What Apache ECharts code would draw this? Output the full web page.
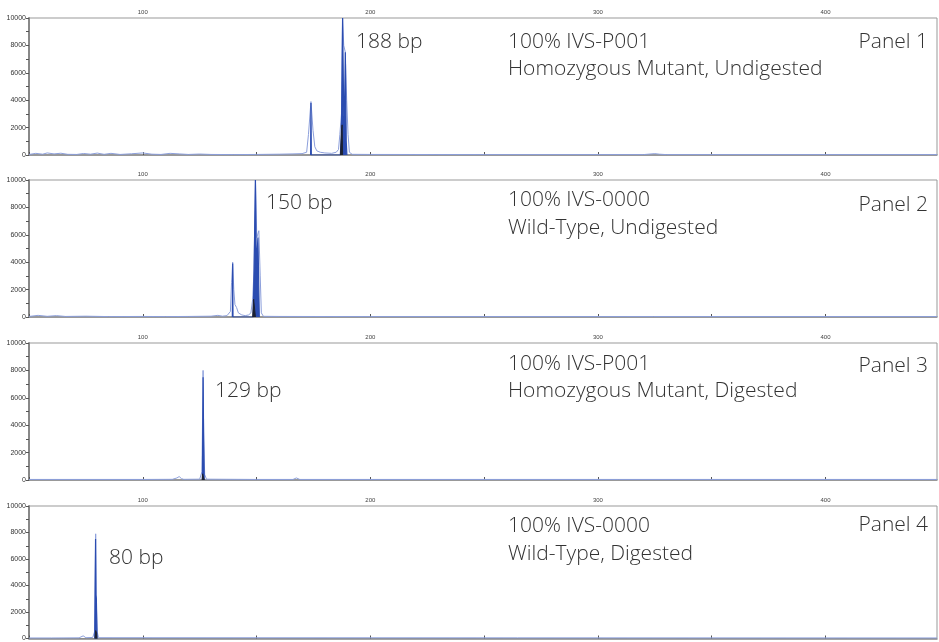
<!DOCTYPE html>
<html>
<head>
<meta charset="utf-8">
<script src="https://cdn.jsdelivr.net/npm/echarts@6/dist/echarts.min.js"></script>
<style>
html,body{margin:0;padding:0;background:#fff;}
#chart{width:939px;height:642px;}
</style>
</head>
<body>
<div id="chart"></div>
<script>
// ---- Data (size in bp, intensity in RFU) ----
var xMin = 50, xMax = 449;
var yTicks = [0, 2000, 4000, 6000, 8000, 10000];
var xTickLabels = [100, 200, 300, 400];

var panel1Trace = [[50,40],[53,120],[56,60],[58,150],[61,80],[64,130],[67,50],[71,40],[74,110],[77,60],[80,140],[83,50],[86,120],[90,40],[95,90],[100,150],[104,60],[108,40],[112,120],[116,80],[120,40],[125,70],[130,40],[140,30],[150,40],[160,60],[166,80],[170,100],[172,200],[172.8,1500],[173.9,3900],[174.8,1800],[175.6,600],[176.5,300],[178,200],[180,150],[183,120],[185,200],[186,400],[186.6,1500],[187.3,3000],[187.8,10000],[188.3,8000],[189,7500],[189.6,4000],[190.2,1500],[190.8,200],[192,50],[200,40],[250,30],[320,30],[325,100],[327,60],[330,30],[449,30]];
var panel1Peak = [[173.75,0],[173.9,3800],[174.05,0],[186.8,0],[187.3,1500],[187.8,10000],[188.3,3000],[188.6,2500],[189.0,7500],[189.4,1000],[189.7,0]];
var panel1Black = [[186.9,0],[187.3,1800],[187.6,2200],[187.8,0]];

var panel2Trace = [[50,40],[54,120],[58,50],[62,100],[66,40],[75,60],[85,30],[100,40],[110,30],[120,40],[130,60],[133,120],[135,60],[137,100],[138.5,400],[139,2500],[139.5,4000],[140,2000],[140.5,900],[141.2,700],[142,300],[143.5,150],[145,100],[146.5,150],[147.5,300],[148.3,1300],[148.9,3500],[149.5,10000],[150.1,5800],[151,6300],[151.6,3000],[152.1,300],[153,50],[160,40],[200,30],[449,30]];
var panel2Peak = [[139.35,0],[139.5,3900],[139.65,0],[148.5,0],[148.9,3400],[149.5,10000],[149.9,3600],[150.6,5800],[151.2,0]];
var panel2Black = [[148.3,0],[148.7,1300],[149.1,1400],[149.5,0]];

var panel3Trace = [[50,40],[100,40],[113,50],[115,150],[116,250],[117,100],[118,50],[125,60],[126,600],[126.5,8000],[126.8,3000],[127.2,400],[128,60],[150,40],[166,40],[167.5,150],[169,40],[449,40]];
var panel3Peak = [[126.2,0],[126.5,7500],[126.7,3500],[127,0]];
var panel3Black = [[126.1,0],[126.3,450],[126.8,450],[127,0]];

var panel4Trace = [[50,40],[60,40],[72,50],[73.8,200],[75,60],[78,80],[78.8,500],[79.3,7900],[79.6,2500],[80,500],[80.5,60],[449,40]];
var panel4Peak = [[78.9,0],[79.25,7500],[79.4,3300],[79.6,3000],[79.9,0]];
var panel4Black = [[79.0,0],[79.3,600],[79.7,400],[79.9,0]];

var sizeLabels = ['188 bp', '150 bp', '129 bp', '80 bp'];
var sampleNames = ['100% IVS-P001', '100% IVS-0000', '100% IVS-P001', '100% IVS-0000'];
var sampleDescs = ['Homozygous Mutant, Undigested', 'Wild-Type, Undigested', 'Homozygous Mutant, Digested', 'Wild-Type, Digested'];
var panelNames = ['Panel 1', 'Panel 2', 'Panel 3', 'Panel 4'];

var traces = [panel1Trace, panel2Trace, panel3Trace, panel4Trace];
var peaks = [panel1Peak, panel2Peak, panel3Peak, panel4Peak];
var blacks = [panel1Black, panel2Black, panel3Black, panel4Black];

// ---- Layout ----
var gridTops = [18, 180, 343, 506];
var gridH = 137;
var sizeLabelPos = [[356, 42], [266, 203], [215, 391], [109, 558]];
var nameY = [[42, 69, 42], [200, 228, 205], [364, 391, 366], [526, 554, 525]];

var chart = echarts.init(document.getElementById('chart'), null, {renderer: 'canvas'});
var grids = [], xAxes = [], yAxes = [], series = [], graphics = [];
var txtFont = '300 21px "Open Sans", sans-serif';

for (var i = 0; i < 4; i++) {
  grids.push({left: 29, width: 908, top: gridTops[i], height: gridH, show: true, borderColor: '#999', borderWidth: 1, backgroundColor: 'transparent'});
  xAxes.push({
    type: 'value', gridIndex: i, position: 'top', min: xMin, max: xMax, interval: 50,
    axisLine: {show: true, lineStyle: {color: '#888', width: 1.5}},
    axisTick: {show: true, length: 3, lineStyle: {color: '#555'}},
    splitLine: {show: false},
    axisLabel: {fontSize: 6, color: '#444', margin: 3, showMaxLabel: false,
      formatter: function (v) { return xTickLabels.indexOf(v) >= 0 ? String(v) : ''; }}
  });
  yAxes.push({
    type: 'value', gridIndex: i, min: 0, max: 10000, interval: 1000,
    axisLine: {show: true, lineStyle: {color: '#888', width: 2}},
    axisTick: {show: true, length: 3, lineStyle: {color: '#555'}},
    splitLine: {show: false},
    axisLabel: {fontSize: 7, color: '#333', margin: 3,
      formatter: function (v) { return yTicks.indexOf(v) >= 0 ? String(v) : ''; }}
  });
  series.push({
    type: 'line', xAxisIndex: i, yAxisIndex: i, data: traces[i], symbol: 'none', silent: true,
    lineStyle: {color: '#8c9fdb', width: 1}, z: 2
  });
  series.push({
    type: 'line', xAxisIndex: i, yAxisIndex: i, data: peaks[i], symbol: 'none', silent: true,
    lineStyle: {color: '#2b4cb0', width: 1.2}, areaStyle: {color: '#2b4cb0', opacity: 1}, z: 3
  });
  series.push({
    type: 'line', xAxisIndex: i, yAxisIndex: i, data: blacks[i], symbol: 'none', silent: true,
    lineStyle: {color: '#1d2233', width: 1}, areaStyle: {color: '#1d2233', opacity: 1}, z: 4
  });
  graphics.push({type: 'text', x: sizeLabelPos[i][0], y: sizeLabelPos[i][1], style: {text: sizeLabels[i], font: txtFont, fill: '#333', verticalAlign: 'middle'}});
  graphics.push({type: 'text', x: 508, y: nameY[i][0], style: {text: sampleNames[i], font: txtFont, fill: '#333', verticalAlign: 'middle'}});
  graphics.push({type: 'text', x: 508, y: nameY[i][1], style: {text: sampleDescs[i], font: txtFont, fill: '#333', verticalAlign: 'middle'}});
  graphics.push({type: 'text', x: 928, y: nameY[i][2], style: {text: panelNames[i], font: txtFont, fill: '#333', align: 'right', verticalAlign: 'middle'}});
}

chart.setOption({
  backgroundColor: '#fff',
  animation: false,
  grid: grids, xAxis: xAxes, yAxis: yAxes, series: series, graphic: graphics
});
</script>
</body>
</html>
